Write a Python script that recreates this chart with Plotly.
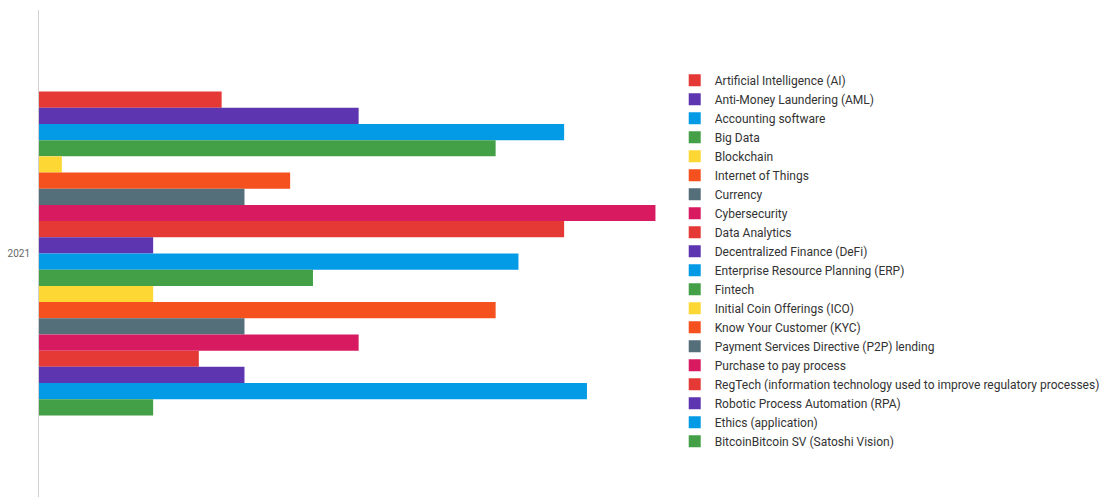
import plotly.graph_objects as go

categories = ["2021"]
series_names = [
    "Artificial Intelligence (AI)",
    "Anti-Money Laundering (AML)",
    "Accounting software",
    "Big Data",
    "Blockchain",
    "Internet of Things",
    "Currency",
    "Cybersecurity",
    "Data Analytics",
    "Decentralized Finance (DeFi)",
    "Enterprise Resource Planning (ERP)",
    "Fintech",
    "Initial Coin Offerings (ICO)",
    "Know Your Customer (KYC)",
    "Payment Services Directive (P2P) lending",
    "Purchase to pay process",
    "RegTech (information technology used to improve regulatory processes)",
    "Robotic Process Automation (RPA)",
    "Ethics (application)",
    "BitcoinBitcoin SV (Satoshi Vision)",
]
series_values = [8, 14, 23, 20, 1, 11, 9, 27, 23, 5, 21, 12, 5, 20, 9, 14, 7, 9, 24, 5]
palette = ["#E53935", "#5E35B1", "#039BE5", "#43A047", "#FDD835", "#F4511E", "#546E7A", "#D81B60"]

fig = go.Figure()
for i, (name, val) in enumerate(zip(series_names, series_values)):
    fig.add_trace(go.Bar(
        y=categories, x=[val], name=name, orientation="h",
        marker=dict(color=palette[i % len(palette)], line=dict(width=0)),
    ))

fig.update_layout(
    width=1105, height=497,
    margin=dict(l=39, r=425, t=10, b=0),
    barmode="group", bargap=0.335, bargroupgap=0,
    plot_bgcolor="white", paper_bgcolor="white",
    font=dict(family="Roboto, Lato, sans-serif", size=12, color="#333333"),
    xaxis=dict(range=[0, 27.9], showgrid=False, showticklabels=False, zeroline=False,
               showline=False, ticks=""),
    yaxis=dict(autorange="reversed", showgrid=False, showline=True, linecolor="#d0d0d0",
               linewidth=1, ticks="", ticklabelstandoff=6,
               tickfont=dict(size=10, color="#666666")),
    legend=dict(x=0.998, xanchor="left", y=0.485, yanchor="middle", traceorder="normal",
                font=dict(size=12, color="#333333"), tracegroupgap=0),
    showlegend=True,
)

fig.write_html("out.html")
